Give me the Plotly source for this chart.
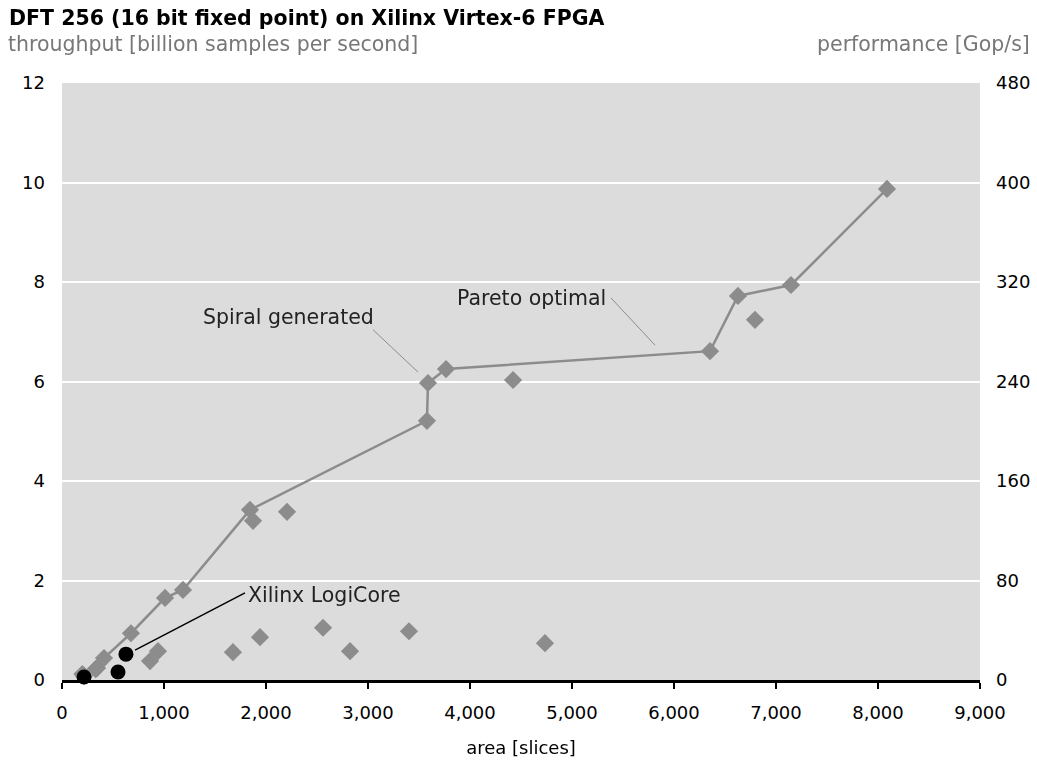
import plotly.graph_objects as go

# Pareto-optimal Spiral designs (area in slices, throughput in billion samples/s)
pareto_area = [216, 343, 412, 676, 1010, 1186, 1843, 3578, 3588, 3765, 6353, 6627, 7147, 8088]
pareto_tp = [0.08, 0.24, 0.44, 0.94, 1.65, 1.81, 3.42, 5.21, 5.97, 6.25, 6.61, 7.72, 7.94, 9.87]

# Other Spiral-generated designs
other_area = [200, 330, 863, 941, 1676, 1873, 1941, 2206, 2559, 2824, 3402, 4422, 4735, 6794]
other_tp = [0.12, 0.22, 0.38, 0.58, 0.56, 3.20, 0.86, 3.38, 1.05, 0.58, 0.98, 6.03, 0.74, 7.24]

# Xilinx LogiCore
xil_area = [216, 549, 627]
xil_tp = [0.06, 0.16, 0.52]

# Gop/s per billion samples/s for DFT 256: 5*log2(256)
GOPS_FACTOR = 40

x_ticks = [0, 1000, 2000, 3000, 4000, 5000, 6000, 7000, 8000, 9000]
y_ticks = [0, 2, 4, 6, 8, 10, 12]
y2_ticks = [0, 80, 160, 240, 320, 400, 480]

GRAY = "#8c8c8c"
FONT = "DejaVu Sans"

fig = go.Figure()
fig.add_trace(go.Scatter(x=other_area, y=other_tp, mode="markers",
                         marker=dict(symbol="diamond", size=14, color=GRAY),
                         cliponaxis=False, showlegend=False))
fig.add_trace(go.Scatter(x=pareto_area, y=pareto_tp, mode="lines+markers",
                         line=dict(color=GRAY, width=2.5),
                         marker=dict(symbol="diamond", size=14, color=GRAY),
                         cliponaxis=False, showlegend=False))
fig.add_trace(go.Scatter(x=xil_area, y=xil_tp, mode="markers",
                         marker=dict(symbol="circle", size=15, color="black"),
                         cliponaxis=False, showlegend=False))
fig.add_trace(go.Scatter(x=pareto_area, y=[v * GOPS_FACTOR for v in pareto_tp],
                         yaxis="y2", mode="markers", opacity=0,
                         hoverinfo="skip", showlegend=False))

# leader lines
leaders = [
    ((3049, 7.04), (3490, 6.19), GRAY, 1),
    ((5382, 7.68), (5814, 6.73), GRAY, 1),
    ((1794, 1.75), (716, 0.60), "black", 1.5),
]
for (x0, y0), (x1, y1), c, w in leaders:
    fig.add_shape(type="line", xref="x", yref="y", x0=x0, y0=y0, x1=x1, y1=y1,
                  line=dict(color=c, width=w))

labels = [("Spiral generated", 2216, 7.30), ("Pareto optimal", 4598, 7.68),
          ("Xilinx LogiCore", 2569, 1.71)]
for t, x, y in labels:
    fig.add_annotation(text=t, x=x, y=y, xref="x", yref="y", showarrow=False,
                       font=dict(family=FONT, size=20.5, color="#222222"))

fig.add_annotation(text="<b>DFT 256 (16 bit fixed point) on Xilinx Virtex-6 FPGA</b>",
                   xref="paper", yref="paper", x=-55 / 918, y=1 + 65 / 597,
                   xanchor="left", yanchor="middle", showarrow=False,
                   font=dict(family=FONT, size=20.5, color="black"))
fig.add_annotation(text="throughput [billion samples per second]",
                   xref="paper", yref="paper", x=-56 / 918, y=1 + 39 / 597,
                   xanchor="left", yanchor="middle", showarrow=False,
                   font=dict(family=FONT, size=20.5, color="#777777"))
fig.add_annotation(text="performance [Gop/s]",
                   xref="paper", yref="paper", x=1 + 52 / 918, y=1 + 39 / 597,
                   xanchor="right", yanchor="middle", showarrow=False,
                   font=dict(family=FONT, size=20.5, color="#777777"))

fig.update_layout(
    width=1037, height=762,
    margin=dict(l=62, r=57, t=83, b=82, autoexpand=False),
    paper_bgcolor="white", plot_bgcolor="#dcdcdc",
    font=dict(family=FONT, size=18, color="black"),
    xaxis=dict(range=[0, 9000], tickvals=x_ticks,
               ticktext=[f"{v:,}" for v in x_ticks],
               showgrid=False, zeroline=False, automargin=False,
               showline=True, linecolor="black", linewidth=3,
               ticks="outside", ticklen=6, tickwidth=2, tickcolor="black",
               ticklabelstandoff=8,
               title=dict(text="area [slices]", font=dict(size=18), standoff=20)),
    yaxis=dict(range=[0, 12], tickvals=y_ticks, showgrid=True, automargin=False,
               gridcolor="white", gridwidth=2, zeroline=False,
               showline=False, ticks="", ticklabelstandoff=16),
    yaxis2=dict(range=[0, 480], tickvals=y2_ticks, overlaying="y", side="right",
                showgrid=False, zeroline=False, showline=False, ticks="",
                automargin=False, ticklabelstandoff=15),
)

fig.write_html("out.html")
